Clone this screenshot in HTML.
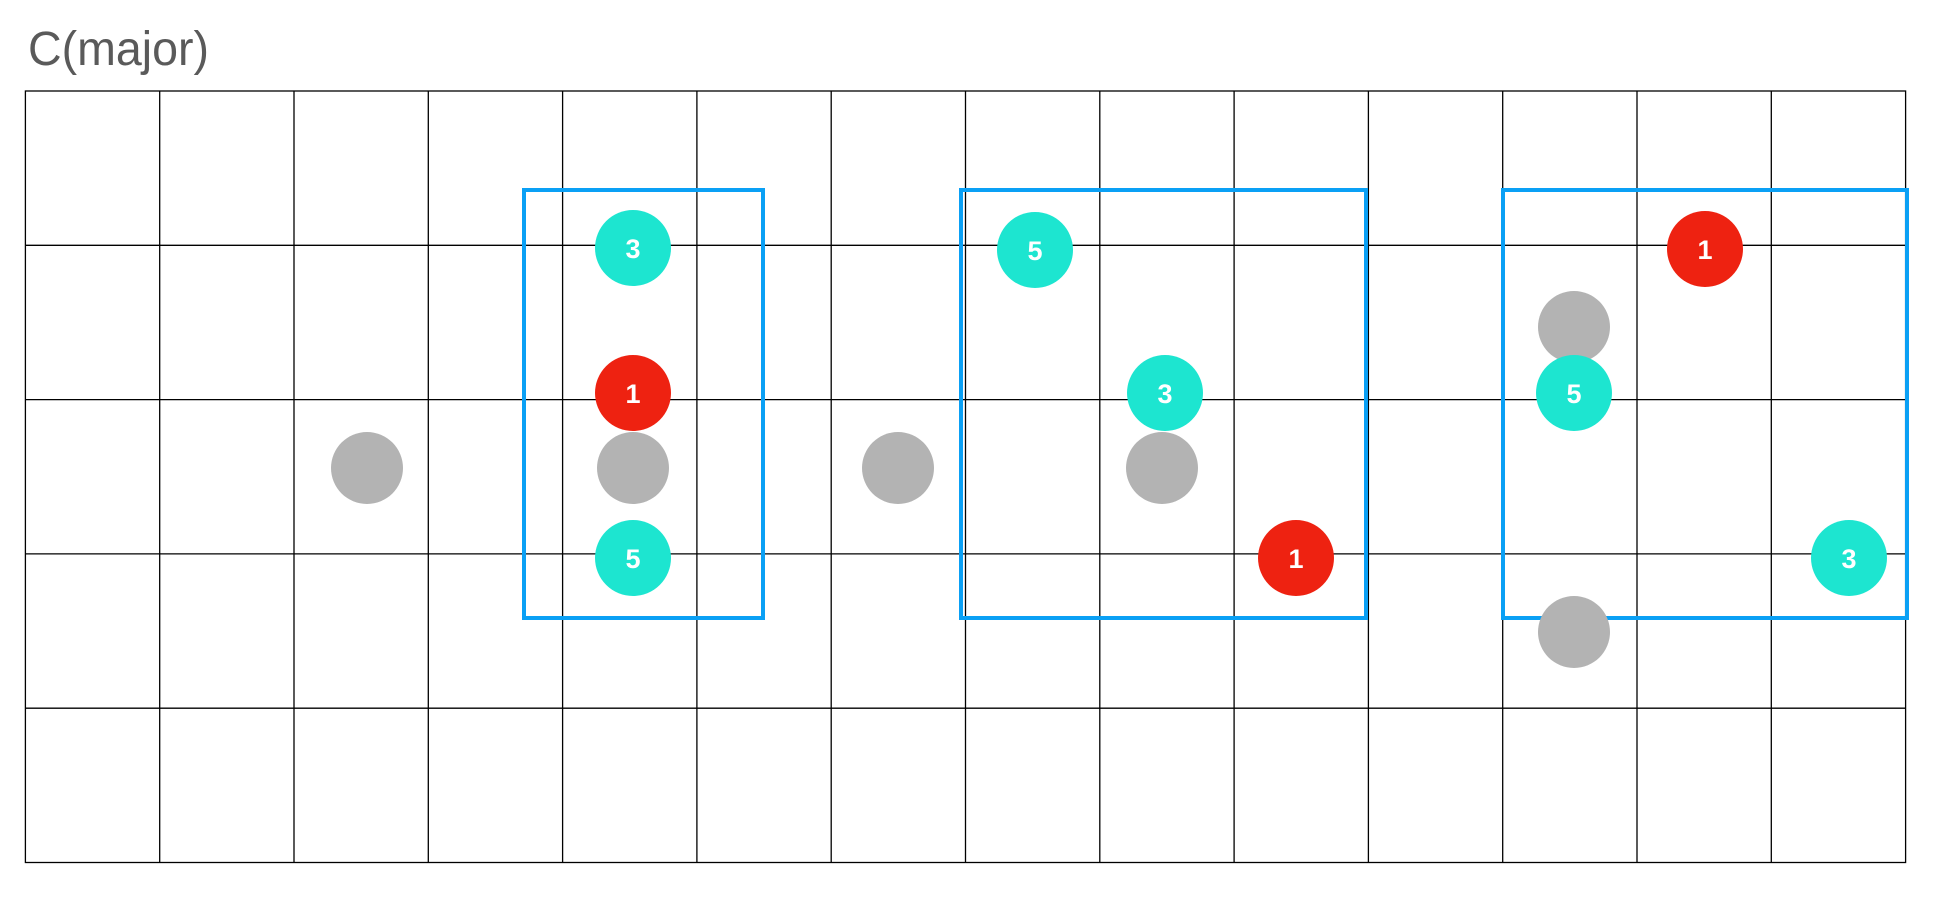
<!DOCTYPE html>
<html><head><meta charset="utf-8"><style>
html,body{margin:0;padding:0;background:#fff;}
</style></head><body>
<svg width="1958" height="902" xmlns="http://www.w3.org/2000/svg">
<rect width="1958" height="902" fill="#fff"/>
<text x="28" y="65" font-family="Liberation Sans, sans-serif" font-size="48" fill="#5a5a5a" textLength="181" lengthAdjust="spacingAndGlyphs">C(major)</text>
<g stroke="#000" stroke-width="1.3" fill="none">
<rect x="25.4" y="91" width="1880.2" height="771.5"/>
<path d="M159.7 91V862.5M294 91V862.5M428.3 91V862.5M562.6 91V862.5M696.9 91V862.5M831.2 91V862.5M965.5 91V862.5M1099.8 91V862.5M1234.1 91V862.5M1368.4 91V862.5M1502.7 91V862.5M1637 91V862.5M1771.3 91V862.5"/>
<path d="M25.4 245.3H1905.6M25.4 399.6H1905.6M25.4 553.9H1905.6M25.4 708.2H1905.6"/>
</g>
<g stroke="#0aa0f5" stroke-width="4" fill="none">
<rect x="524" y="190" width="239" height="428"/>
<rect x="961" y="190" width="405" height="428"/>
<rect x="1503" y="190" width="404" height="428"/>
</g>
<g fill="#b3b3b3">
<circle cx="367" cy="468" r="36"/>
<circle cx="633" cy="468" r="36"/>
<circle cx="898" cy="468" r="36"/>
<circle cx="1162" cy="468" r="36"/>
<circle cx="1574" cy="327" r="36"/>
<circle cx="1574" cy="632" r="36"/>
</g>
<g font-family="Liberation Sans, sans-serif" font-weight="bold" font-size="27" fill="#fff" text-anchor="middle">
<circle cx="633" cy="248" r="38" fill="#1de5d0"/><text x="633" y="258">3</text>
<circle cx="633" cy="393" r="38" fill="#ee2211"/><text x="633" y="403">1</text>
<circle cx="633" cy="558" r="38" fill="#1de5d0"/><text x="633" y="568">5</text>
<circle cx="1035" cy="250" r="38" fill="#1de5d0"/><text x="1035" y="260">5</text>
<circle cx="1165" cy="393" r="38" fill="#1de5d0"/><text x="1165" y="403">3</text>
<circle cx="1296" cy="558" r="38" fill="#ee2211"/><text x="1296" y="568">1</text>
<circle cx="1705" cy="249" r="38" fill="#ee2211"/><text x="1705" y="259">1</text>
<circle cx="1574" cy="393" r="38" fill="#1de5d0"/><text x="1574" y="403">5</text>
<circle cx="1849" cy="558" r="38" fill="#1de5d0"/><text x="1849" y="568">3</text>
</g>
</svg>
</body></html>
